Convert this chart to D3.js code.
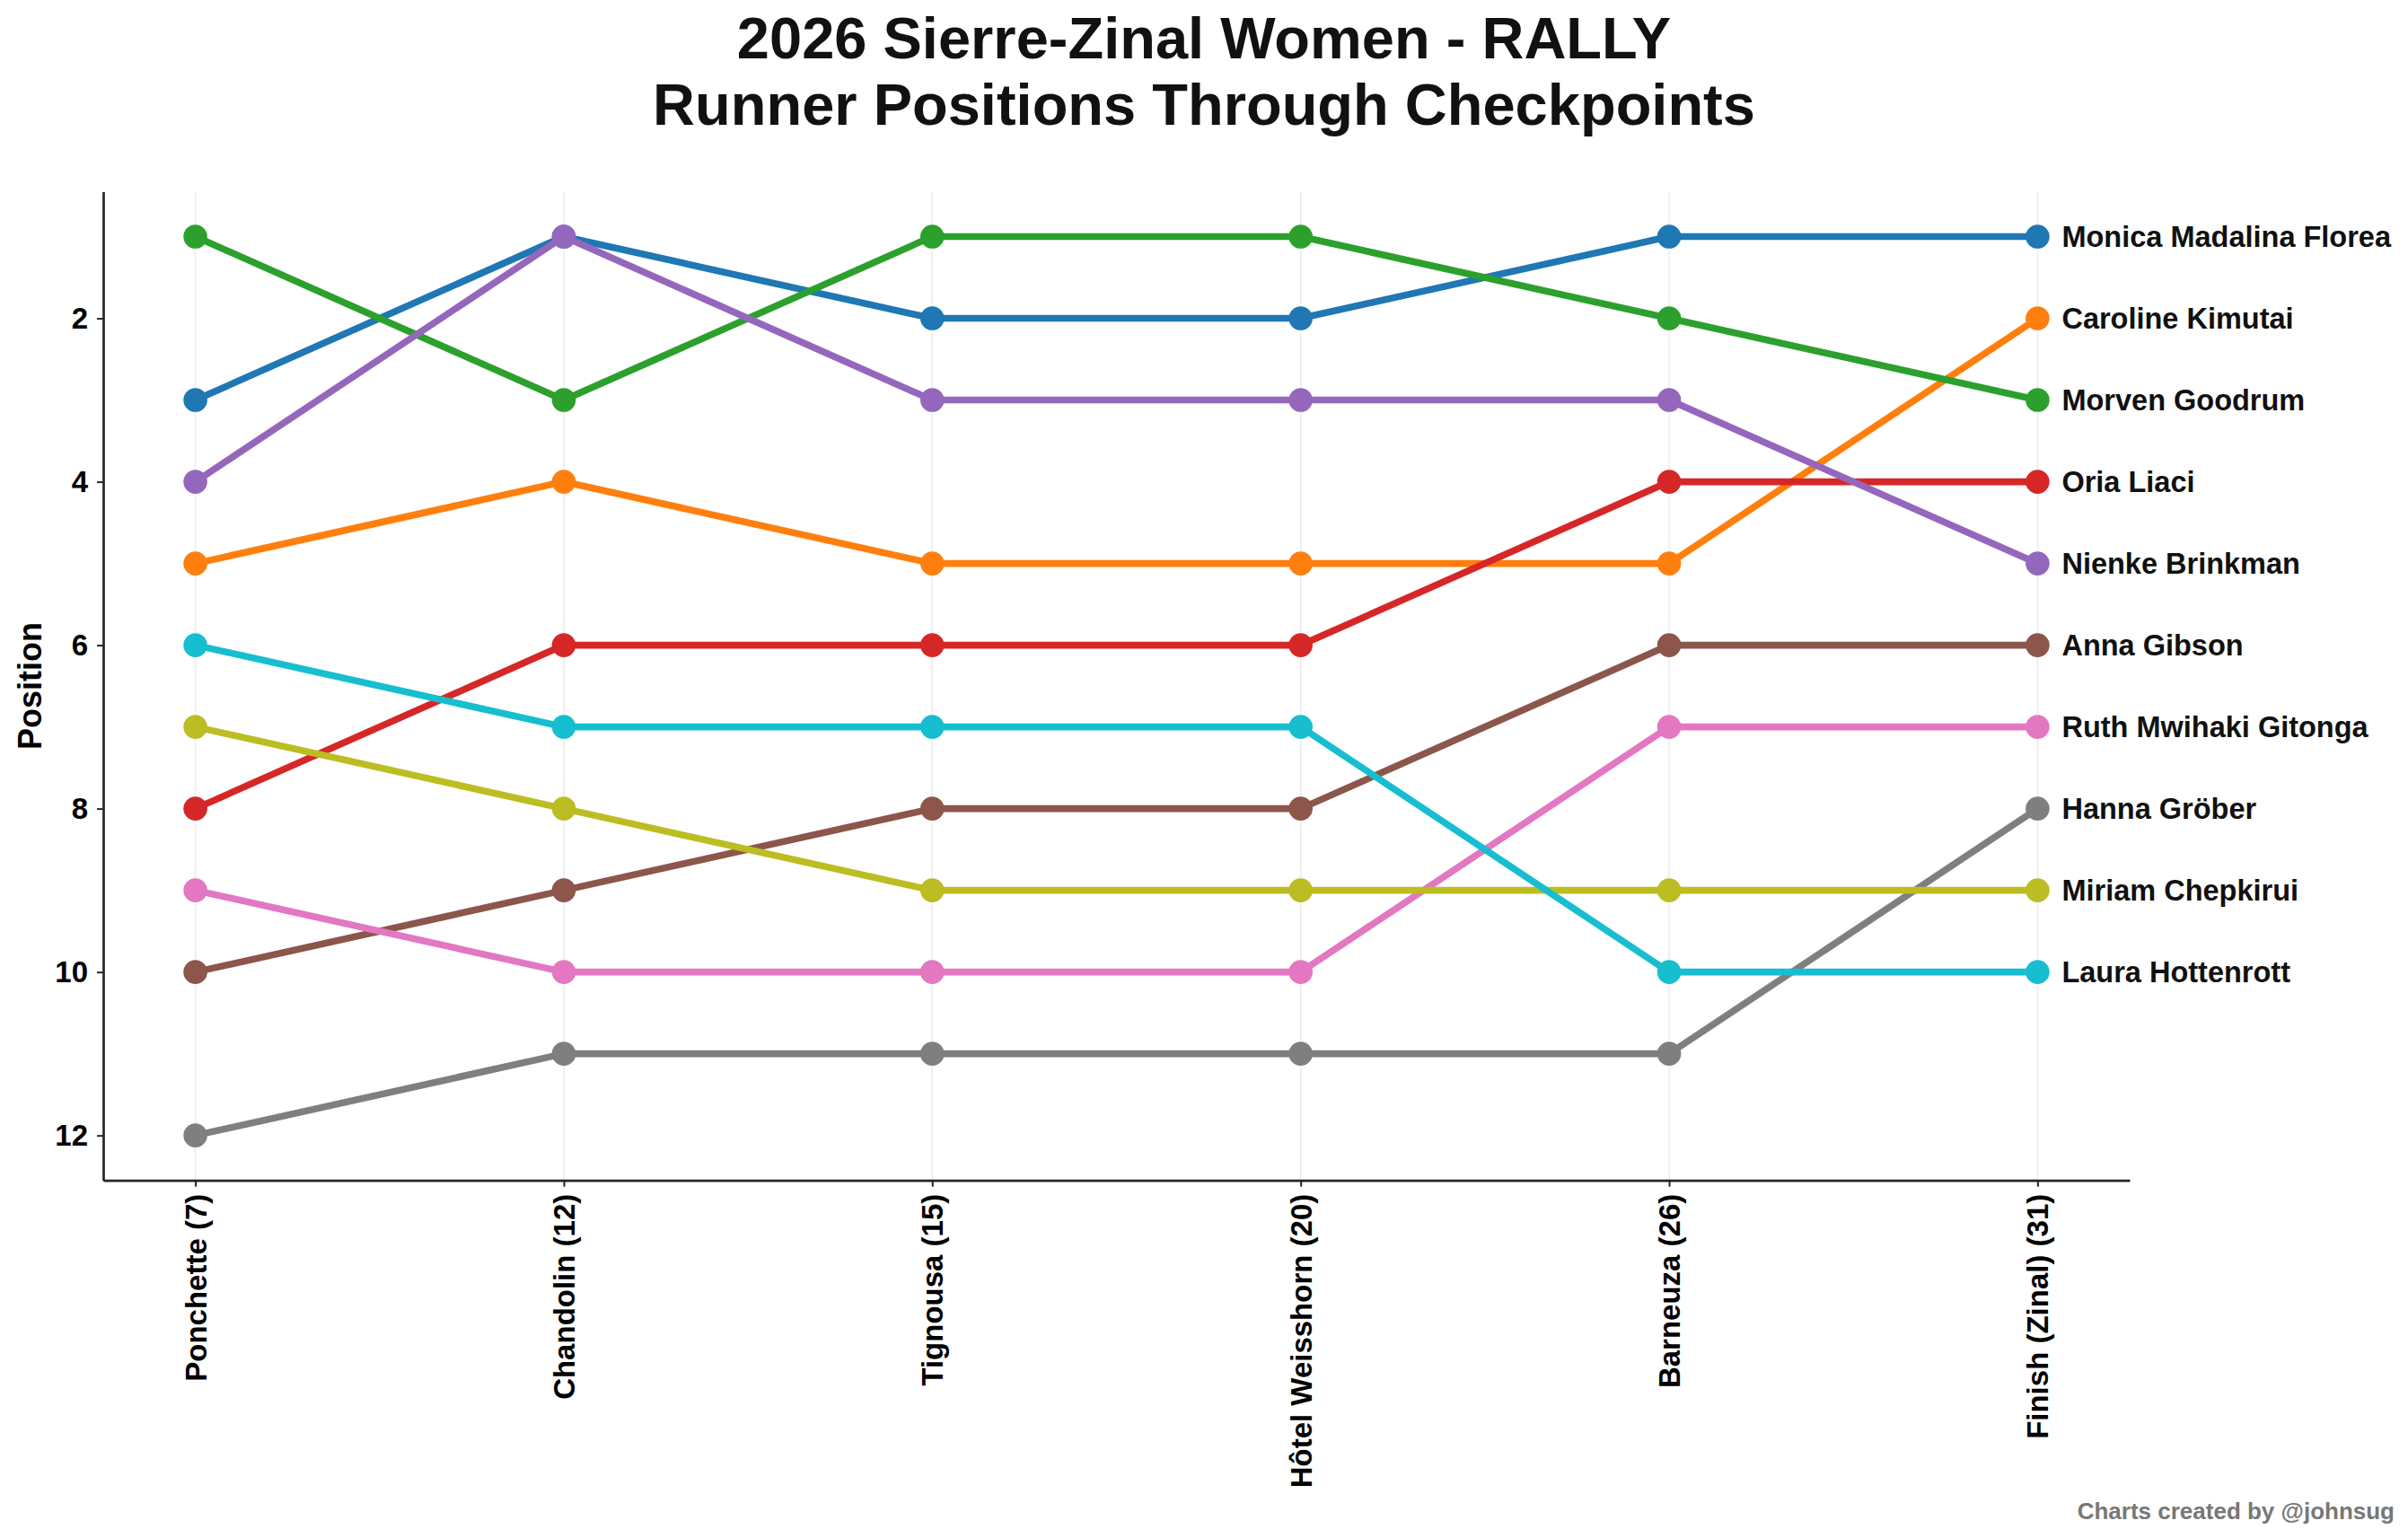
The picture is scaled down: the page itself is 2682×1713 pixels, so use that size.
<!DOCTYPE html>
<html>
<head>
<meta charset="utf-8">
<script src="https://cdn.jsdelivr.net/npm/d3@7"></script>
<style>
  body { margin: 0; background: #fff; }
  text { font-family: "Liberation Sans", Arial, sans-serif; font-weight: bold; }
</style>
</head>
<body>
<script>
// checkpoints along the course (km)
var checkpoints = ["Ponchette (7)", "Chandolin (12)", "Tignousa (15)", "Hôtel Weisshorn (20)", "Barneuza (26)", "Finish (Zinal) (31)"];

// runners, in finishing order
var runners = ["Monica Madalina Florea", "Caroline Kimutai", "Morven Goodrum", "Oria Liaci", "Nienke Brinkman",
               "Anna Gibson", "Ruth Mwihaki Gitonga", "Hanna Gröber", "Miriam Chepkirui", "Laura Hottenrott"];

// position at each checkpoint
var florea    = [3, 1, 2, 2, 1, 1];
var kimutai   = [5, 4, 5, 5, 5, 2];
var goodrum   = [1, 3, 1, 1, 2, 3];
var liaci     = [8, 6, 6, 6, 4, 4];
var brinkman  = [4, 1, 3, 3, 3, 5];
var gibson    = [10, 9, 8, 8, 6, 6];
var gitonga   = [9, 10, 10, 10, 7, 7];
var grober    = [12, 11, 11, 11, 11, 8];
var chepkirui = [7, 8, 9, 9, 9, 9];
var hottenrott = [6, 7, 7, 7, 10, 10];

var yTicks = [2, 4, 6, 8, 10, 12];

var colors = ["#1f77b4", "#ff7f0e", "#2ca02c", "#d62728", "#9467bd",
              "#8c564b", "#e377c2", "#7f7f7f", "#bcbd22", "#17becf"];

var positions = [florea, kimutai, goodrum, liaci, brinkman, gibson, gitonga, grober, chepkirui, hottenrott];
var series = runners.map(function (name, i) {
    return { name: name, color: colors[i], values: positions[i] };
});

var W = 2682, H = 1713;
var plot = { left: 115, right: 2372, top: 213.5, bottom: 1314.7 };

var svg = d3.select("body").append("svg")
    .attr("width", W)
    .attr("height", H);

// scales (matplotlib-style margins around the data)
var x = d3.scaleLinear()
    .domain([-0.25, checkpoints.length - 0.75])
    .range([plot.left, plot.right]);

var y = d3.scaleLinear()
    .domain([0.45, 12.55])
    .range([plot.top, plot.bottom]);

// title
var title = svg.append("text")
    .attr("text-anchor", "middle")
    .style("font-size", "65px")
    .attr("fill", "#111");
title.append("tspan").attr("x", W / 2).attr("y", 65).text("2026 Sierre-Zinal Women - RALLY");
title.append("tspan").attr("x", W / 2).attr("y", 139).text("Runner Positions Through Checkpoints");

// vertical grid at each checkpoint
svg.append("g")
    .selectAll("line")
    .data(checkpoints)
    .enter().append("line")
    .attr("x1", function (d, i) { return x(i); })
    .attr("x2", function (d, i) { return x(i); })
    .attr("y1", plot.top)
    .attr("y2", plot.bottom)
    .attr("stroke", "#ebebeb")
    .attr("stroke-width", 1.5);

// axes
var xAxis = svg.append("g")
    .attr("transform", "translate(0," + plot.bottom + ")")
    .call(d3.axisBottom(x)
        .tickValues(d3.range(checkpoints.length))
        .tickFormat(function (i) { return checkpoints[i]; })
        .tickSizeInner(7)
        .tickSizeOuter(0)
        .tickPadding(8));

xAxis.selectAll(".tick text")
    .attr("transform", "rotate(-90)")
    .attr("x", -15)
    .attr("y", 0)
    .attr("dy", "0.35em")
    .attr("text-anchor", "end")
    .style("font-size", "33px")
    .attr("fill", "#000");

var yAxis = svg.append("g")
    .attr("transform", "translate(" + plot.left + ",0)")
    .call(d3.axisLeft(y)
        .tickValues(yTicks)
        .tickSizeInner(7)
        .tickSizeOuter(0)
        .tickPadding(10));

yAxis.selectAll(".tick text")
    .style("font-size", "33px")
    .attr("fill", "#000");

svg.selectAll(".domain").attr("stroke", "#262626").attr("stroke-width", 2.7);
svg.selectAll(".tick line").attr("stroke", "#262626").attr("stroke-width", 2);

// y-axis title
svg.append("text")
    .attr("transform", "translate(33," + (plot.top + plot.bottom) / 2 + ") rotate(-90)")
    .attr("text-anchor", "middle")
    .attr("dy", "0.35em")
    .style("font-size", "36px")
    .attr("fill", "#000")
    .text("Position");

// lines and markers
var line = d3.line()
    .x(function (d, i) { return x(i); })
    .y(function (d) { return y(d); });

var runner = svg.append("g")
    .selectAll("g")
    .data(series)
    .enter().append("g");

runner.append("path")
    .attr("d", function (d) { return line(d.values); })
    .attr("fill", "none")
    .attr("stroke", function (d) { return d.color; })
    .attr("stroke-width", 7.6)
    .attr("stroke-linejoin", "round");

runner.selectAll("circle")
    .data(function (d) { return d.values.map(function (v) { return { v: v, color: d.color }; }); })
    .enter().append("circle")
    .attr("cx", function (d, i) { return x(i); })
    .attr("cy", function (d) { return y(d.v); })
    .attr("r", 13.3)
    .attr("fill", function (d) { return d.color; });

// names at the finish
var last = checkpoints.length - 1;
runner.append("text")
    .attr("x", x(last) + 27)
    .attr("y", function (d) { return y(d.values[last]); })
    .attr("dy", "0.35em")
    .style("font-size", "32.5px")
    .attr("fill", "#111")
    .text(function (d) { return d.name; });

// footer
svg.append("text")
    .attr("x", 2667)
    .attr("y", 1692)
    .attr("text-anchor", "end")
    .style("font-size", "26px")
    .attr("fill", "#777")
    .text("Charts created by @johnsug");
</script>
</body>
</html>
